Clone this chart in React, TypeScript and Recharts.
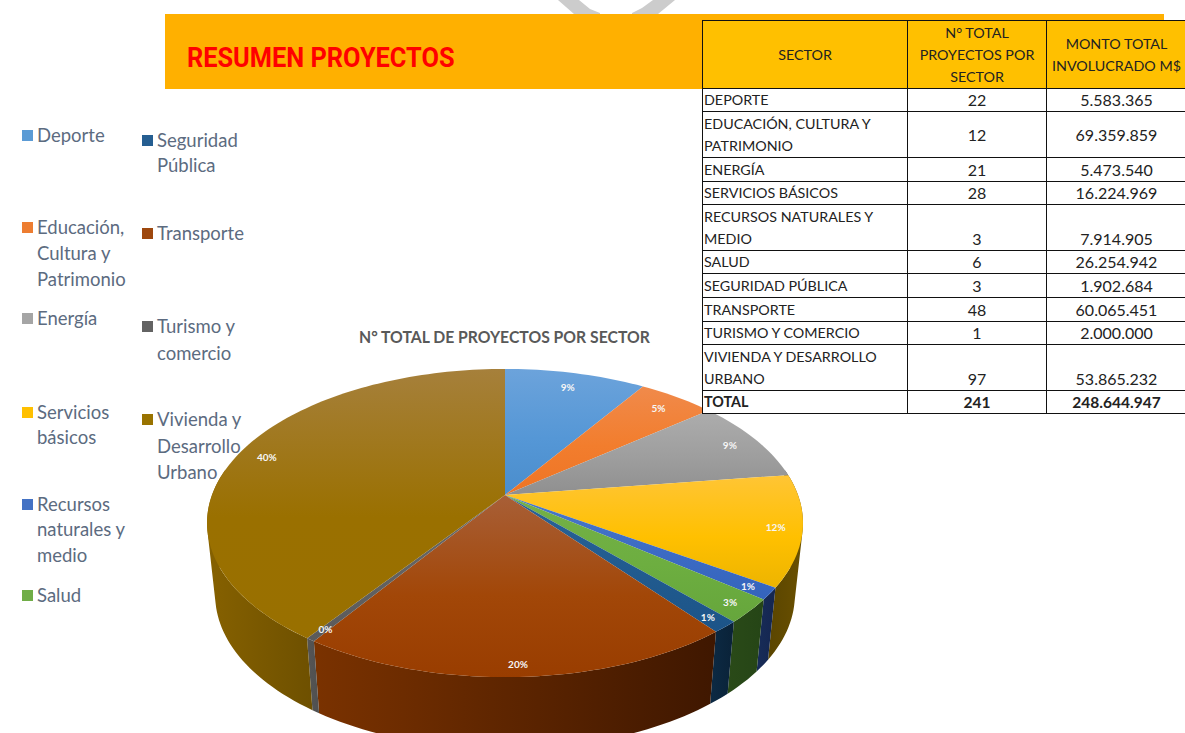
import React from 'react';
import { PieChart, Pie } from 'recharts';

const sectors = ['Deporte', 'Educación, Cultura y Patrimonio', 'Energía', 'Servicios básicos', 'Recursos naturales y medio', 'Salud', 'Seguridad Pública', 'Transporte', 'Turismo y comercio', 'Vivienda y Desarrollo Urbano'];
const projectCounts = [22, 12, 21, 28, 3, 6, 3, 48, 1, 97];
const percentLabels = ['9%', '5%', '9%', '12%', '1%', '3%', '1%', '20%', '0%', '40%'];
const faceColors = ['#5B9BD5', '#ED7D31', '#A5A5A5', '#FFC000', '#4472C4', '#70AD47', '#255E91', '#9E480E', '#636363', '#997300'];
const faceTop = ['#6CA3DB', '#F08A4B', '#ADADAD', '#FFC535', '#4A78C8', '#74B048', '#2A6396', '#A85F37', '#6A6A6A', '#A6803B'];
const faceMid = ['#5597D6', '#F27D2D', '#9E9E9E', '#FFC000', '#3C6BC4', '#6DAE40', '#215B8F', '#A24708', '#626262', '#9A7000'];
const faceBottom = ['#4A8DCC', '#EE7425', '#8F8F8F', '#EDB400', '#3464BC', '#66A63C', '#1C5488', '#993D00', '#5A5A5A', '#997000'];
const wallLeft = ['#2a4a6a', '#7a3e18', '#555555', '#5a4500', '#182c58', '#2a4a18', '#0c2a44', '#7A3200', '#555555', '#866100'];
const wallRight = ['#2a4a6a', '#7a3e18', '#555555', '#6a5000', '#142650', '#254516', '#0a2238', '#3F1700', '#505050', '#6E5000'];

const tableHeader = ['SECTOR', 'N° TOTAL\nPROYECTOS POR\nSECTOR', 'MONTO TOTAL\nINVOLUCRADO M$'];
const tableSectors = ['DEPORTE', 'EDUCACIÓN, CULTURA Y\nPATRIMONIO', 'ENERGÍA', 'SERVICIOS BÁSICOS', 'RECURSOS NATURALES Y\nMEDIO', 'SALUD', 'SEGURIDAD PÚBLICA', 'TRANSPORTE', 'TURISMO Y COMERCIO', 'VIVIENDA Y DESARROLLO\nURBANO'];
const tableCounts = ['22', '12', '21', '28', '3', '6', '3', '48', '1', '97'];
const tableAmounts = ['5.583.365', '69.359.859', '5.473.540', '16.224.969', '7.914.905', '26.254.942', '1.902.684', '60.065.451', '2.000.000', '53.865.232'];
const tableTotal = ['TOTAL', '241', '248.644.947'];
const rowHeights = [23, 46, 24, 23, 46, 23, 24, 24, 23, 46];
const rowAlign = ['middle', 'middle', 'middle', 'middle', 'bottom', 'middle', 'middle', 'middle', 'middle', 'bottom'];

const legendLines = [
  { label: 'Deporte', color: 0, x: 22, lines: ['Deporte'], y: [135] },
  { label: 'Educación', color: 1, x: 22, lines: ['Educación,', 'Cultura y', 'Patrimonio'], y: [227, 253, 279] },
  { label: 'Energía', color: 2, x: 22, lines: ['Energía'], y: [318] },
  { label: 'Servicios', color: 3, x: 22, lines: ['Servicios', 'básicos'], y: [412, 437] },
  { label: 'Recursos', color: 4, x: 22, lines: ['Recursos', 'naturales y', 'medio'], y: [504, 529, 555] },
  { label: 'Salud', color: 5, x: 22, lines: ['Salud'], y: [595] },
  { label: 'Seguridad', color: 6, x: 142, lines: ['Seguridad', 'Pública'], y: [140, 165] },
  { label: 'Transporte', color: 7, x: 142, lines: ['Transporte'], y: [233] },
  { label: 'Turismo', color: 8, x: 142, lines: ['Turismo y', 'comercio'], y: [326, 353] },
  { label: 'Vivienda', color: 9, x: 142, lines: ['Vivienda y', 'Desarrollo', 'Urbano'], y: [419, 446, 472] },
];

const chartData = sectors.map((name, i) => ({ name, value: projectCounts[i], idx: i }));

const K = 0.1818;
const TOP_RX = 293;
const TOP_RY = 149;
const WALL_DROP = 72;
const BASE_RX = 285;
const BASE_RY = 149;

function project(cx: number, cy: number, rx: number, ry: number, r: number, theta: number): [number, number] {
  const t = (theta * Math.PI) / 180;
  const w = 1 + K * r * Math.cos(t);
  return [cx + (rx * r * Math.sin(t)) / w, cy - (ry * r * Math.cos(t)) / w];
}

function samples(a: number, b: number): number[] {
  const out: number[] = [];
  const n = Math.max(2, Math.ceil((b - a) / 1.5));
  for (let i = 0; i <= n; i++) out.push(a + ((b - a) * i) / n);
  return out;
}

const pts = (list: [number, number][]) => list.map((p) => `${p[0].toFixed(2)},${p[1].toFixed(2)}`).join(' L ');

function signedArea(q: [number, number][]): number {
  let s = 0;
  q.forEach((p, i) => {
    const n = q[(i + 1) % q.length];
    s += p[0] * n[1] - n[0] * p[1];
  });
  return s;
}

function FaceShape(props: any) {
  const { cx, cy, startAngle, endAngle, payload } = props;
  const i = payload?.idx ?? props.idx ?? props.index;
  const a = 90 - startAngle;
  const b = 90 - endAngle;
  const arc = samples(a, b).map((t) => project(cx, cy, TOP_RX, TOP_RY, 1, t));
  const id = `face-${i}`;
  return (
    <g>
      <defs>
        <linearGradient id={id} x1="0" y1="0" x2="0" y2="1">
          <stop offset="0%" stopColor={faceTop[i]} />
          <stop offset="55%" stopColor={faceMid[i]} />
          <stop offset="100%" stopColor={faceBottom[i]} />
        </linearGradient>
      </defs>
      <path d={`M ${cx},${cy} L ${pts(arc)} Z`} fill={`url(#${id})`} stroke="none" />
    </g>
  );
}

function WallShape(props: any) {
  const { cx, cy, startAngle, endAngle, payload } = props;
  const i = payload?.idx ?? props.idx ?? props.index;
  const a = Math.max(90 - startAngle, 80);
  const b = Math.min(90 - endAngle, 280);
  if (b <= a) return <g />;
  const list = samples(a, b);
  const upper = list.map((t) => project(cx, cy, TOP_RX, TOP_RY, 1, t));
  const lower = list.map((t) => project(cx, cy + WALL_DROP, BASE_RX, BASE_RY, 1, t));
  const xs = upper.concat(lower).map((p) => p[0]);
  const id = `wall-${i}`;
  const d = list
    .slice(1)
    .map((_, j) => {
      const q: [number, number][] = [upper[j], upper[j + 1], lower[j + 1], lower[j]];
      const oriented = signedArea(q) < 0 ? q.slice().reverse() : q;
      return `M ${pts(oriented)} Z`;
    })
    .join(' ');
  return (
    <g>
      <defs>
        <linearGradient id={id} gradientUnits="userSpaceOnUse" x1={Math.min(...xs)} y1="0" x2={Math.max(...xs)} y2="0">
          <stop offset="0%" stopColor={wallLeft[i]} />
          <stop offset="100%" stopColor={wallRight[i]} />
        </linearGradient>
      </defs>
      <path d={d} fill={`url(#${id})`} fillRule="nonzero" stroke="none" />
    </g>
  );
}

function PercentLabel(props: any) {
  const { cx, cy, midAngle, index } = props;
  const theta = 90 - midAngle;
  const r = 0.905 - 0.035 * Math.cos((theta * Math.PI) / 180);
  const [x, y] = project(cx, cy, TOP_RX, TOP_RY, r, theta);
  return (
    <text x={x} y={y} textAnchor="middle" dominantBaseline="central" fill="#F6F6F6" fontFamily="Lato" fontWeight={700} fontSize={10}>
      {percentLabels[index]}
    </text>
  );
}

const TEXT_SIZE = 14.3;
const NUM_SIZE = 16;
const cellBase: React.CSSProperties = { border: '1px solid #111', padding: 0, whiteSpace: 'pre-line', lineHeight: '22px', overflow: 'hidden' };
const numCell: React.CSSProperties = { ...cellBase, textAlign: 'center', fontSize: NUM_SIZE };
const fontStack = 'Lato, "Open Sans", sans-serif';

export default function App() {
  return (
    <div style={{ position: 'absolute', left: 0, top: 0, width: 1185, height: 733, overflow: 'hidden', background: '#fff', fontFamily: fontStack }}>
      <svg width={1185} height={20} style={{ position: 'absolute', left: 0, top: 0 }}>
        <path d="M 558,0 L 579,0 L 590,9 L 600,13 L 600,14 L 574,14 Z" fill="#CCCCCC" />
        <path d="M 675,0 L 653,0 L 642,8 L 632,13 L 632,14 L 658,14 Z" fill="#CCCCCC" />
      </svg>
      <div style={{ position: 'absolute', left: 165, top: 14, width: 999, height: 75, background: '#FFB000' }} />
      <div style={{ position: 'absolute', left: 187, top: 40, color: '#FF0000', fontFamily: 'Roboto', fontWeight: 700, fontSize: 28, lineHeight: '36px', whiteSpace: 'nowrap', transform: 'scaleX(0.905)', transformOrigin: 'left center' }}>
        RESUMEN PROYECTOS
      </div>

      {legendLines.map((item) => (
        <React.Fragment key={item.label}>
          <div style={{ position: 'absolute', left: item.x, top: item.y[0] - 5, width: 11, height: 11, background: faceColors[item.color] }} />
          {item.lines.map((line, j) => (
            <div key={line} style={{ position: 'absolute', left: item.x + 15, top: item.y[j] - 13, lineHeight: '26px', fontSize: 18.5, color: '#5C6B80', whiteSpace: 'nowrap' }}>
              {line}
            </div>
          ))}
        </React.Fragment>
      ))}

      <div style={{ position: 'absolute', left: 359, top: 325, color: '#595959', fontWeight: 700, fontSize: 17.5, lineHeight: '24px', whiteSpace: 'nowrap', transform: 'scaleX(0.9)', transformOrigin: 'left center' }}>
        N° TOTAL DE PROYECTOS POR SECTOR
      </div>

      <div style={{ position: 'absolute', left: 0, top: 0 }}>
        <PieChart width={1185} height={733} margin={{ top: 0, right: 0, bottom: 0, left: 0 }}>
          <Pie data={chartData} dataKey="value" nameKey="name" cx={505} cy={495} outerRadius={149} startAngle={90} endAngle={-270} isAnimationActive={false} shape={WallShape} stroke="none" legendType="none" />
          <Pie data={chartData} dataKey="value" nameKey="name" cx={505} cy={495} outerRadius={149} startAngle={90} endAngle={-270} isAnimationActive={false} shape={FaceShape} stroke="none" label={PercentLabel} labelLine={false} />
        </PieChart>
      </div>

      <table style={{ position: 'absolute', left: 702, top: 20, width: 484, tableLayout: 'fixed', borderCollapse: 'collapse', fontSize: TEXT_SIZE, color: '#222', background: '#fff' }}>
        <colgroup>
          <col style={{ width: 205 }} />
          <col style={{ width: 139 }} />
          <col style={{ width: 140 }} />
        </colgroup>
        <tbody>
          <tr style={{ height: 68, background: '#FFC000' }}>
            {tableHeader.map((h) => (
              <td key={h} style={{ ...cellBase, textAlign: 'center', verticalAlign: 'middle', fontWeight: 400 }}>{h}</td>
            ))}
          </tr>
          {tableSectors.map((s, i) => (
            <tr key={s} style={{ height: rowHeights[i] }}>
              <td style={{ ...cellBase, paddingLeft: 1 }}>{s}</td>
              <td style={{ ...numCell, verticalAlign: rowAlign[i] as any }}>{tableCounts[i]}</td>
              <td style={{ ...numCell, verticalAlign: rowAlign[i] as any }}>{tableAmounts[i]}</td>
            </tr>
          ))}
          <tr style={{ height: 23, fontWeight: 700 }}>
            <td style={{ ...cellBase, paddingLeft: 1 }}>{tableTotal[0]}</td>
            <td style={{ ...numCell, fontSize: 15.5 }}>{tableTotal[1]}</td>
            <td style={{ ...numCell, fontSize: 15.5 }}>{tableTotal[2]}</td>
          </tr>
        </tbody>
      </table>
    </div>
  );
}
